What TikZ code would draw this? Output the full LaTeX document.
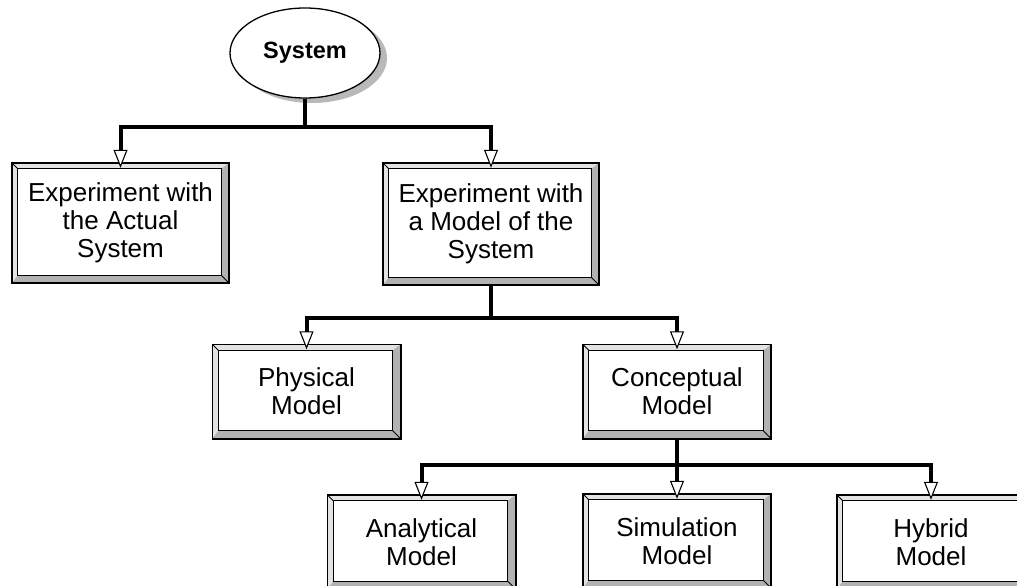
\documentclass[tikz,border=0pt]{standalone}
\usepackage{fontspec}
\setmainfont{Liberation Sans}
\usepackage{tikz}
\usetikzlibrary{%
	arrows.meta,%
	calc,%
	shapes.geometric,%
	shadows
}

\newcommand{\boxfont}{\fontsize{26}{28}\selectfont}
% 3D frame round a box node
\newcommand{\bevel}[1]{%
	\fill[gray!22] (#1.north west) -- (#1.north east) -- ([shift={(-8pt,-6pt)}]#1.north east)
		-- ([shift={(6pt,-6pt)}]#1.north west) -- ([shift={(6pt,8pt)}]#1.south west) -- (#1.south west) -- cycle;
	\fill[gray!60] (#1.north east) -- (#1.south east) -- (#1.south west) -- ([shift={(6pt,8pt)}]#1.south west)
		-- ([shift={(-8pt,8pt)}]#1.south east) -- ([shift={(-8pt,-6pt)}]#1.north east) -- cycle;
	\draw[line width=0.8pt] ([shift={(6pt,-6pt)}]#1.north west) rectangle ([shift={(-8pt,8pt)}]#1.south east);
	\draw[line width=0.8pt] (#1.north west) -- ([shift={(6pt,-6pt)}]#1.north west);
	\draw[line width=0.8pt] (#1.south east) -- ([shift={(-8pt,8pt)}]#1.south east);
	\draw[line width=1.6pt] (#1.north west) rectangle (#1.south east);
}

\tikzset{
	modelbox/.style={rectangle, inner sep=0pt, align=center, font=\boxfont,
		minimum width=188pt, minimum height=94pt},
	link/.style={line width=4pt, shorten >=-5pt,
		-{Triangle[length=18pt,width=14pt,fill=white,line width=1.1pt]}}
}

\begin{document}
\begin{tikzpicture}[x=1pt,y=-1pt]
	\useasboundingbox (0,0) rectangle (1017,586);
	\clip (0,0) rectangle (1017,586);

	% Top
	\node[ellipse, draw, line width=1.3pt, fill=white, minimum width=150pt, minimum height=90pt,
		inner sep=0pt, font=\fontsize{23.5}{26}\selectfont\bfseries,
		drop shadow={shadow xshift=7pt, shadow yshift=-5pt, fill=gray!55, opacity=1}]
		(sys) at (305,53) {System};

	% First level
	\node[modelbox, minimum width=217pt, minimum height=120pt] (act) at (120.5,223) {Experiment with\\the Actual\\System};
	\node[modelbox, minimum width=216pt, minimum height=122pt] (mdl) at (491,224) {Experiment with\\a Model of the\\System};

	% Second level
	\node[modelbox] (phy) at (306.5,391.5) {Physical\\Model};
	\node[modelbox] (con) at (677,391.5) {Conceptual\\Model};

	% Third level
	\node[modelbox] (ana) at (421.5,542) {Analytical\\Model};
	\node[modelbox] (sim) at (677,541) {Simulation\\Model};
	\node[modelbox] (hyb) at (931,542) {Hybrid\\Model};

	\foreach \n in {act,mdl,phy,con,ana,sim,hyb}
		\bevel{\n};

	% Connectors
	\coordinate (j1) at (305,127);
	\coordinate (j2) at (491,318);
	\coordinate (j3) at (677,465);

	\draw[line width=4pt] (sys.south) -- (j1);
	\draw[link] (j1) -| (act.north);
	\draw[link] (j1) -| (mdl.north);

	\draw[line width=4pt] (mdl.south) -- (j2);
	\draw[link] (j2) -| (phy.north);
	\draw[link] (j2) -| (con.north);

	\draw[line width=4pt] (con.south) -- (j3);
	\draw[link] (j3) -| (ana.north);
	\draw[link] (j3) -- (sim.north);
	\draw[link] (j3) -| (hyb.north);
\end{tikzpicture}
\end{document}
